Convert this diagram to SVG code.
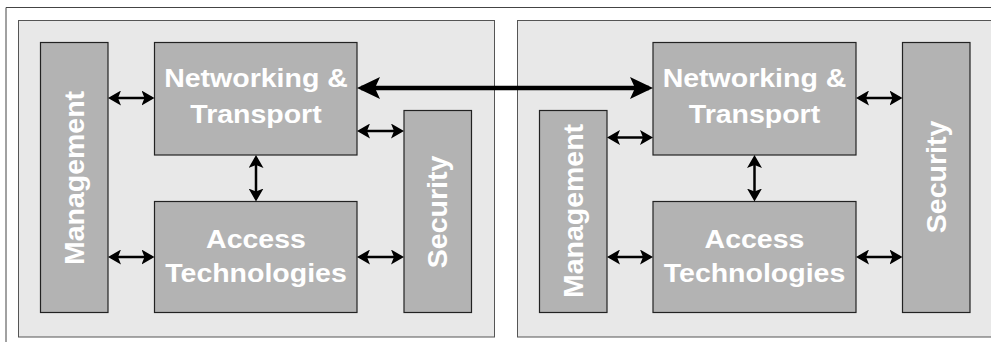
<svg xmlns="http://www.w3.org/2000/svg" width="991" height="342" viewBox="0 0 991 342">
<style>
.frame{fill:none;stroke:#444;stroke-width:1}
.panel{fill:#e8e8e8;stroke:#555;stroke-width:1}
.box{fill:#b3b3b3;stroke:#222;stroke-width:1.2}
.lbl{font-family:"Liberation Sans",Arial,sans-serif;font-weight:bold;font-size:28.5px;fill:#fff;text-anchor:middle}
.con{stroke:#000;stroke-width:2.5;fill:none;marker-start:url(#ah);marker-end:url(#ah)}
.big{stroke:#000;stroke-width:4.5;fill:none;marker-start:url(#bh);marker-end:url(#bh)}
</style>
<defs>
<marker id="ah" viewBox="0 0 13 15" refX="10" refY="7.5" markerWidth="13" markerHeight="15" markerUnits="userSpaceOnUse" orient="auto-start-reverse">
<path d="M0,0 L13,7.5 L0,15 L3,7.5 Z" fill="#000"/>
</marker>
<marker id="bh" viewBox="0 0 23 22" refX="19" refY="11" markerWidth="23" markerHeight="22" markerUnits="userSpaceOnUse" orient="auto-start-reverse">
<path d="M0,0 L23,11 L0,22 L5,11 Z" fill="#000"/>
</marker>
</defs>
<path class="frame" d="M6,342 V7.5 H991"/>
<g id="panel-left"><rect class="panel" x="18.5" y="20.5" width="476" height="316.5"/></g>
<g id="panel-right"><rect class="panel" x="517.5" y="20.5" width="480" height="316.5"/></g>

<g id="left-management">
<rect class="box" x="40.5" y="42.5" width="67.5" height="270"/>
<text class="lbl" transform="translate(83.5,178) rotate(-90)">Management</text>
</g>
<g id="left-networking">
<rect class="box" x="154.5" y="42.5" width="202.5" height="112.5"/>
<g transform="translate(256,87) scale(1,0.92)"><text class="lbl">Networking &amp;</text></g>
<g transform="translate(256,123) scale(1,0.92)"><text class="lbl">Transport</text></g>
</g>
<g id="left-access">
<rect class="box" x="154.5" y="201.5" width="202.5" height="111"/>
<g transform="translate(256,248) scale(1,0.92)"><text class="lbl">Access</text></g>
<g transform="translate(256,282) scale(1,0.92)"><text class="lbl">Technologies</text></g>
</g>
<g id="left-security">
<rect class="box" x="404" y="110.5" width="67.5" height="202"/>
<text class="lbl" transform="translate(447,212) rotate(-90)">Security</text>
</g>

<g id="right-management">
<rect class="box" x="539.5" y="110.5" width="67.5" height="202"/>
<text class="lbl" transform="translate(583,211) rotate(-90)">Management</text>
</g>
<g id="right-networking">
<rect class="box" x="653" y="42.5" width="203" height="112.5"/>
<g transform="translate(754.5,87) scale(1,0.92)"><text class="lbl">Networking &amp;</text></g>
<g transform="translate(754.5,123) scale(1,0.92)"><text class="lbl">Transport</text></g>
</g>
<g id="right-access">
<rect class="box" x="653" y="201.5" width="203" height="111"/>
<g transform="translate(754.5,248) scale(1,0.92)"><text class="lbl">Access</text></g>
<g transform="translate(754.5,282) scale(1,0.92)"><text class="lbl">Technologies</text></g>
</g>
<g id="right-security">
<rect class="box" x="902.5" y="42.5" width="67.5" height="270"/>
<text class="lbl" transform="translate(946,177) rotate(-90)">Security</text>
</g>

<g id="connectors">
<line class="con" x1="111" y1="98" x2="151.5" y2="98"/>
<line class="con" x1="111" y1="257" x2="151.5" y2="257"/>
<line class="con" x1="256" y1="158" x2="256" y2="198.5"/>
<line class="con" x1="360" y1="131" x2="401" y2="131"/>
<line class="con" x1="360" y1="257" x2="401" y2="257"/>
<line class="con" x1="610" y1="137.5" x2="650" y2="137.5"/>
<line class="con" x1="610" y1="257" x2="650" y2="257"/>
<line class="con" x1="754.5" y1="158" x2="754.5" y2="198.5"/>
<line class="con" x1="859" y1="98" x2="899.5" y2="98"/>
<line class="con" x1="859" y1="257" x2="899.5" y2="257"/>
<line class="big" x1="361" y1="88" x2="649" y2="88"/>
</g>
</svg>
